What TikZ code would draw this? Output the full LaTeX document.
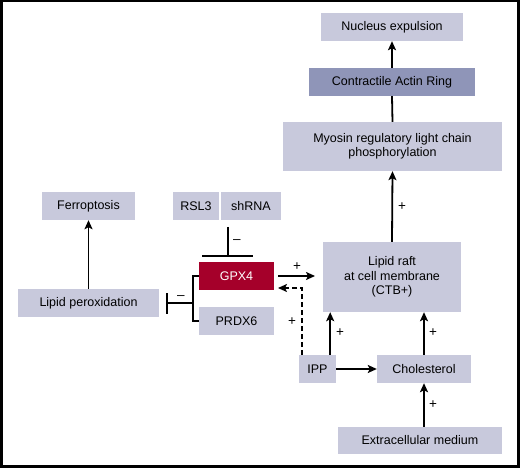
\documentclass[tikz,border=0pt]{standalone}
\usepackage{fontspec}
\setmainfont{Liberation Sans}
\usetikzlibrary{arrows.meta,calc}
\definecolor{boxc}{HTML}{C8C9DC}
\definecolor{ringc}{HTML}{8F95B8}
\definecolor{gpxc}{HTML}{A5002A}
\tikzset{
  box/.style={fill=boxc, inner sep=0pt, align=center, font=\fontsize{12.5}{14.5}\selectfont},
  arr/.style={line width=1.8pt, -{Stealth[length=9pt,width=8pt,inset=2pt]}},
  ln/.style={line width=1.8pt},
  sign/.style={font=\fontsize{13.5}{14}\selectfont, inner sep=0pt}
}
\begin{document}
\begin{tikzpicture}[x=1pt,y=-1pt]
\useasboundingbox (0,0) rectangle (520,468);
\draw[line width=2.5pt] (1.25,1.25) rectangle (518.5,466.5);

\node[box, minimum width=142pt, minimum height=28pt] (nuc) at (392,27) {Nucleus expulsion};
\node[box, fill=ringc, minimum width=166pt, minimum height=28pt] (actin) at (392,82) {Contractile Actin Ring};
\node[box, minimum width=219pt, minimum height=49pt] (myo) at (392.5,146.5) {Myosin regulatory light chain\\phosphorylation};
\node[box, minimum width=93pt, minimum height=28pt] (ferro) at (88.5,206) {Ferroptosis};
\node[box, minimum width=46pt, minimum height=28pt] (rsl) at (196,206) {RSL3};
\node[box, minimum width=60pt, minimum height=28pt] (shrna) at (251,206) {shRNA};
\node[box, fill=gpxc, text=white, minimum width=75pt, minimum height=28pt] (gpx) at (236.5,276) {GPX4};
\node[box, minimum width=75pt, minimum height=28pt] (prdx) at (236.5,321) {PRDX6};
\node[box, minimum width=141pt, minimum height=28pt] (lipid) at (88.5,303) {Lipid peroxidation};
\node[box, minimum width=138pt, minimum height=70pt] (raft) at (392,277) {Lipid raft\\at cell membrane\\(CTB+)};
\node[box, minimum width=37pt, minimum height=28pt] (ipp) at (317.5,369) {IPP};
\node[box, minimum width=94pt, minimum height=28pt] (chol) at (424,369) {Cholesterol};
\node[box, minimum width=164pt, minimum height=27pt] (extra) at (420,440.5) {Extracellular medium};

% right column
\draw[arr] (actin.north) -- (nuc.south);
\draw[ln] (myo.north) -- (actin.south);
\draw[arr] (raft.north) -- (myo.south);
\node[sign] (p1) at (402,207) {+};

% ferroptosis
\draw[arr] (lipid.north) -- (ferro.south);

% inhibition RSL3/shRNA -> GPX4
\coordinate (inhtop) at (228,227);
\coordinate (inhbot) at (228,256);
\coordinate (barL) at (202,256);
\coordinate (barR) at (253,256);
\draw[ln] (inhtop) -- (inhbot);
\draw[ln] (barL) -- (barR);
\node[sign] (m1) at (237,242) {--};

% bracket GPX4/PRDX6 -| lipid peroxidation
\coordinate (brk) at (193,303);
\coordinate (tbar) at (167,303);
\coordinate (tbarT) at (167,293);
\coordinate (tbarB) at (167,314);
\draw[ln] (gpx.west) -| (brk) |- (prdx.west);
\draw[ln] (brk) -- (tbar);
\draw[ln] (tbarT) -- (tbarB);
\node[sign] (m2) at (181,298) {--};

% GPX4 -> raft
\coordinate (g1) at (278,276);
\coordinate (g2) at (315,276);
\draw[arr] (g1) -- (g2);
\node[sign] (p2) at (297,267) {+};

% dashed IPP -> GPX4
\coordinate (d1) at (302,355);
\coordinate (d2) at (278,288);
\draw[arr, dashed, dash pattern=on 5pt off 3pt] (d1) |- (d2);
\node[sign] (p3) at (292,322) {+};

% IPP -> raft, IPP -> cholesterol
\draw[arr] ([xshift=-6pt]ipp.north east) -- ([xshift=-6pt]ipp.north east |- raft.south);
\node[sign] (p4) at (340,333) {+};
\draw[arr] (ipp.east) -- (chol.west);
\draw[arr] (chol.north) -- (chol.north |- raft.south);
\node[sign] (p5) at (433,333) {+};
\draw[arr] (chol.south |- extra.north) -- (chol.south);
\node[sign] (p6) at (433,405) {+};
\end{tikzpicture}
\end{document}
